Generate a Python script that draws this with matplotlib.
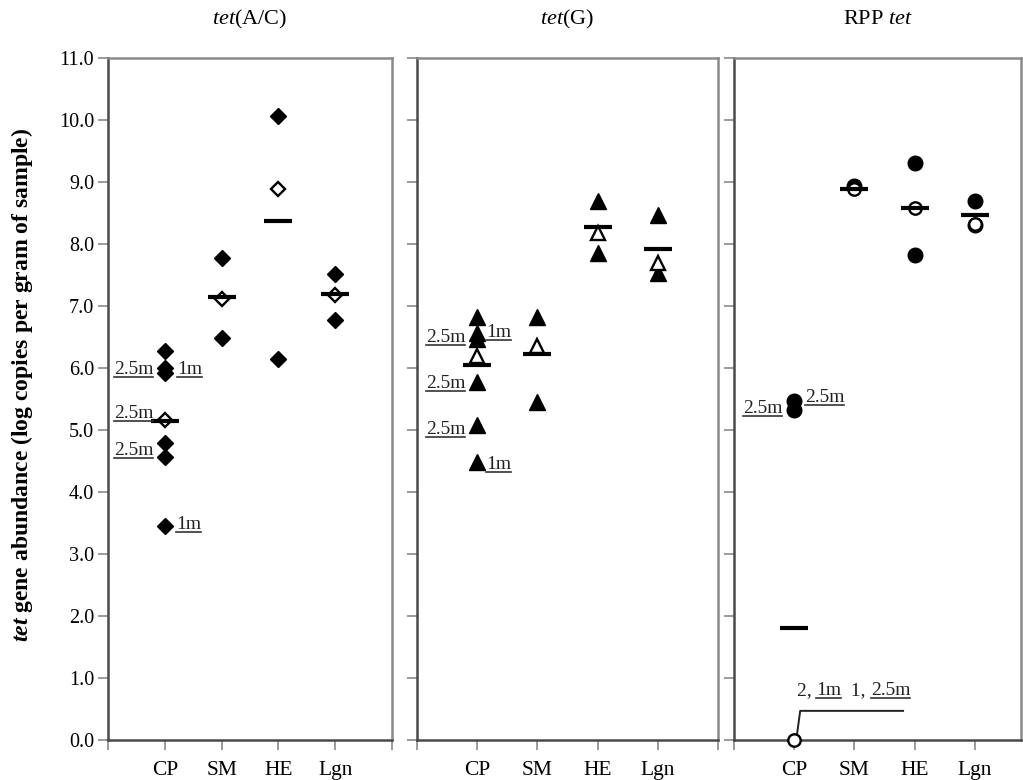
import matplotlib
matplotlib.use('Agg')
import matplotlib.pyplot as plt
from matplotlib.lines import Line2D
from matplotlib.transforms import IdentityTransform

plt.rcParams['font.family'] = ['Liberation Serif', 'DejaVu Serif']
plt.rcParams['mathtext.fontset'] = 'custom'
plt.rcParams['mathtext.rm'] = 'Liberation Serif'
plt.rcParams['mathtext.it'] = 'Liberation Serif:italic'
plt.rcParams['mathtext.bf'] = 'Liberation Serif:bold'
plt.rcParams['mathtext.bfit'] = 'Liberation Serif:italic:bold'

# ---------------- data ----------------
categories = ['CP', 'SM', 'HE', 'Lgn']
panel_titles = [r'$\mathit{tet}$(A/C)', r'$\mathit{tet}$(G)', r'RPP $\mathit{tet}$']

# tet(A/C) – filled diamonds
acx_CP = [6.28, 6.00, 5.92, 4.79, 4.57, 3.45]
acx_SM = [7.77, 6.49]
acx_HE = [10.07, 6.15]
acx_Lgn = [7.52, 6.77]
acx_open = [5.16, 7.11, 8.89, 7.17]
acx_mean = [5.14, 7.15, 8.37, 7.19]

# tet(G) – filled triangles
g_CP = [6.83, 6.57, 6.47, 5.77, 5.08, 4.48]
g_SM = [6.83, 5.45]
g_HE = [8.69, 7.85]
g_Lgn = [8.47, 7.53]
g_open = [6.20, 6.36, 8.18, 7.70]
g_mean = [6.05, 6.23, 8.27, 7.92]

# RPP tet – filled circles
rpp_CP = [5.47, 5.32]
rpp_SM = [8.93]
rpp_HE = [9.30, 7.83]
rpp_Lgn = [8.70, 8.30]
rpp_open = [0.00, 8.88, 8.58, 8.33]
rpp_mean = [1.80, 8.88, 8.58, 8.47]

y_ticks = [0, 1, 2, 3, 4, 5, 6, 7, 8, 9, 10, 11]

# sample-depth annotations: (text, x, y-baseline, ha)
acx_notes = [('2.5m', 0.80, 5.90, 'right'), ('1m', 1.22, 5.90, 'left'),
             ('2.5m', 0.80, 5.19, 'right'), ('2.5m', 0.80, 4.60, 'right'),
             ('1m', 1.20, 3.41, 'left')]
g_notes = [('2.5m', 0.80, 6.42, 'right'), ('1m', 1.15, 6.50, 'left'),
           ('2.5m', 0.80, 5.68, 'right'), ('2.5m', 0.80, 4.94, 'right'),
           ('1m', 1.15, 4.37, 'left')]
rpp_notes = [('2.5m', 0.80, 5.27, 'right'), ('2.5m', 1.18, 5.45, 'left')]
# bottom note in RPP panel: pieces (text, underlined)
rpp_bottom = [('2, ', False), ('1m', True), ('  1, ', False), ('2.5m', True)]

# ---------------- figure ----------------
W, H = 1023, 780
fig = plt.figure(figsize=(W / 100, H / 100), dpi=100)

y_bot = (H - 740) / H
y_h = (740 - 58) / H
ax1 = fig.add_axes([108 / W, y_bot, 284 / W, y_h])
ax2 = fig.add_axes([417 / W, y_bot, 301 / W, y_h])
ax3 = fig.add_axes([734 / W, y_bot, 287 / W, y_h])
axes = [ax1, ax2, ax3]
xmax = [5, 5, 4.77]

dark = '#4a4a4a'
light = '#8a8a8a'

for i, ax in enumerate(axes):
    ax.set_ylim(0, 11)
    ax.set_xlim(0, xmax[i])
    ax.set_yticks(y_ticks)
    if i == 0:
        ax.set_yticklabels([f'{v:.1f}' for v in y_ticks])
    else:
        ax.set_yticklabels([])
    xt = [0, 1, 2, 3, 4, 5] if i < 2 else [0, 1, 2, 3, 4]
    ax.set_xticks(xt)
    ax.set_xticklabels([''] + categories + ([''] if i < 2 else []))
    ax.tick_params(axis='y', direction='out', length=7, width=1.2, color=light,
                   labelsize=14.5, pad=3)
    ax.tick_params(axis='x', direction='out', length=7, width=1.2, color=light,
                   labelsize=15.5, pad=8)
    for s in ['left', 'bottom']:
        ax.spines[s].set_color(dark)
        ax.spines[s].set_linewidth(1.8)
    for s in ['top', 'right']:
        ax.spines[s].set_color(light)
        ax.spines[s].set_linewidth(1.8)
    cx = (fig.transFigure.inverted().transform(ax.transAxes.transform((0.5, 1)))[0])
    fig.text(cx, (H - 19) / H, panel_titles[i], ha='center', va='center', fontsize=16)

def draw_panel(ax, groups, open_vals, mean_vals, marker, ms):
    for k, vals in enumerate(groups):
        ax.plot([k + 1] * len(vals), vals, linestyle='none', marker=marker, ms=ms,
                color='black', mec='black', zorder=3, clip_on=False)
    ax.plot([1, 2, 3, 4], open_vals, linestyle='none', marker=marker, ms=ms * 0.85,
            mfc='white', mec='black', mew=1.7, zorder=4, clip_on=False)
    ax.plot([1, 2, 3, 4], mean_vals, linestyle='none', marker='_', ms=20, mew=3,
            color='black', zorder=5)

draw_panel(ax1, [acx_CP, acx_SM, acx_HE, acx_Lgn], acx_open, acx_mean, 'D', 8.3)
draw_panel(ax2, [g_CP, g_SM, g_HE, g_Lgn], g_open, g_mean, '^', 12)
draw_panel(ax3, [rpp_CP, rpp_SM, rpp_HE, rpp_Lgn], rpp_open, rpp_mean, 'o', 10.5)

# leader line for the zero point in RPP CP
ax3.plot([1.05, 1.10, 2.81], [0.11, 0.47, 0.47], color='#222222', lw=1.4, zorder=2)

# y label
fig.text(22 / W, (H - 385) / H,
         r'$\mathbfit{tet}$ gene abundance (log copies per gram of sample)',
         rotation=90, ha='center', va='center', fontsize=17, fontweight='bold')

underlined = []
note_fs = 14
for ax, notes in [(ax1, acx_notes), (ax2, g_notes), (ax3, rpp_notes)]:
    for txt, x, y, ha in notes:
        t = ax.text(x, y, txt, ha=ha, va='baseline', fontsize=note_fs, color='#222222')
        underlined.append(t)

# bottom composite note in RPP panel
fig.canvas.draw()
r = fig.canvas.get_renderer()
x_disp, y_disp = ax3.transData.transform((1.04, 0.72))
for txt, ul in rpp_bottom:
    t = fig.text(x_disp / W, y_disp / H, txt, ha='left', va='baseline',
                 fontsize=note_fs, color='#222222')
    fig.canvas.draw()
    bb = t.get_window_extent(r)
    if ul:
        underlined.append(t)
    x_disp = bb.x1

fig.canvas.draw()
for t in underlined:
    bb = t.get_window_extent(r)
    yb = t.get_transform().transform(t.get_position())[1] - 3
    fig.add_artist(Line2D([bb.x0, bb.x1], [yb, yb], transform=IdentityTransform(),
                          color='#333333', lw=1.2))

fig.savefig('out.png', dpi=100)
